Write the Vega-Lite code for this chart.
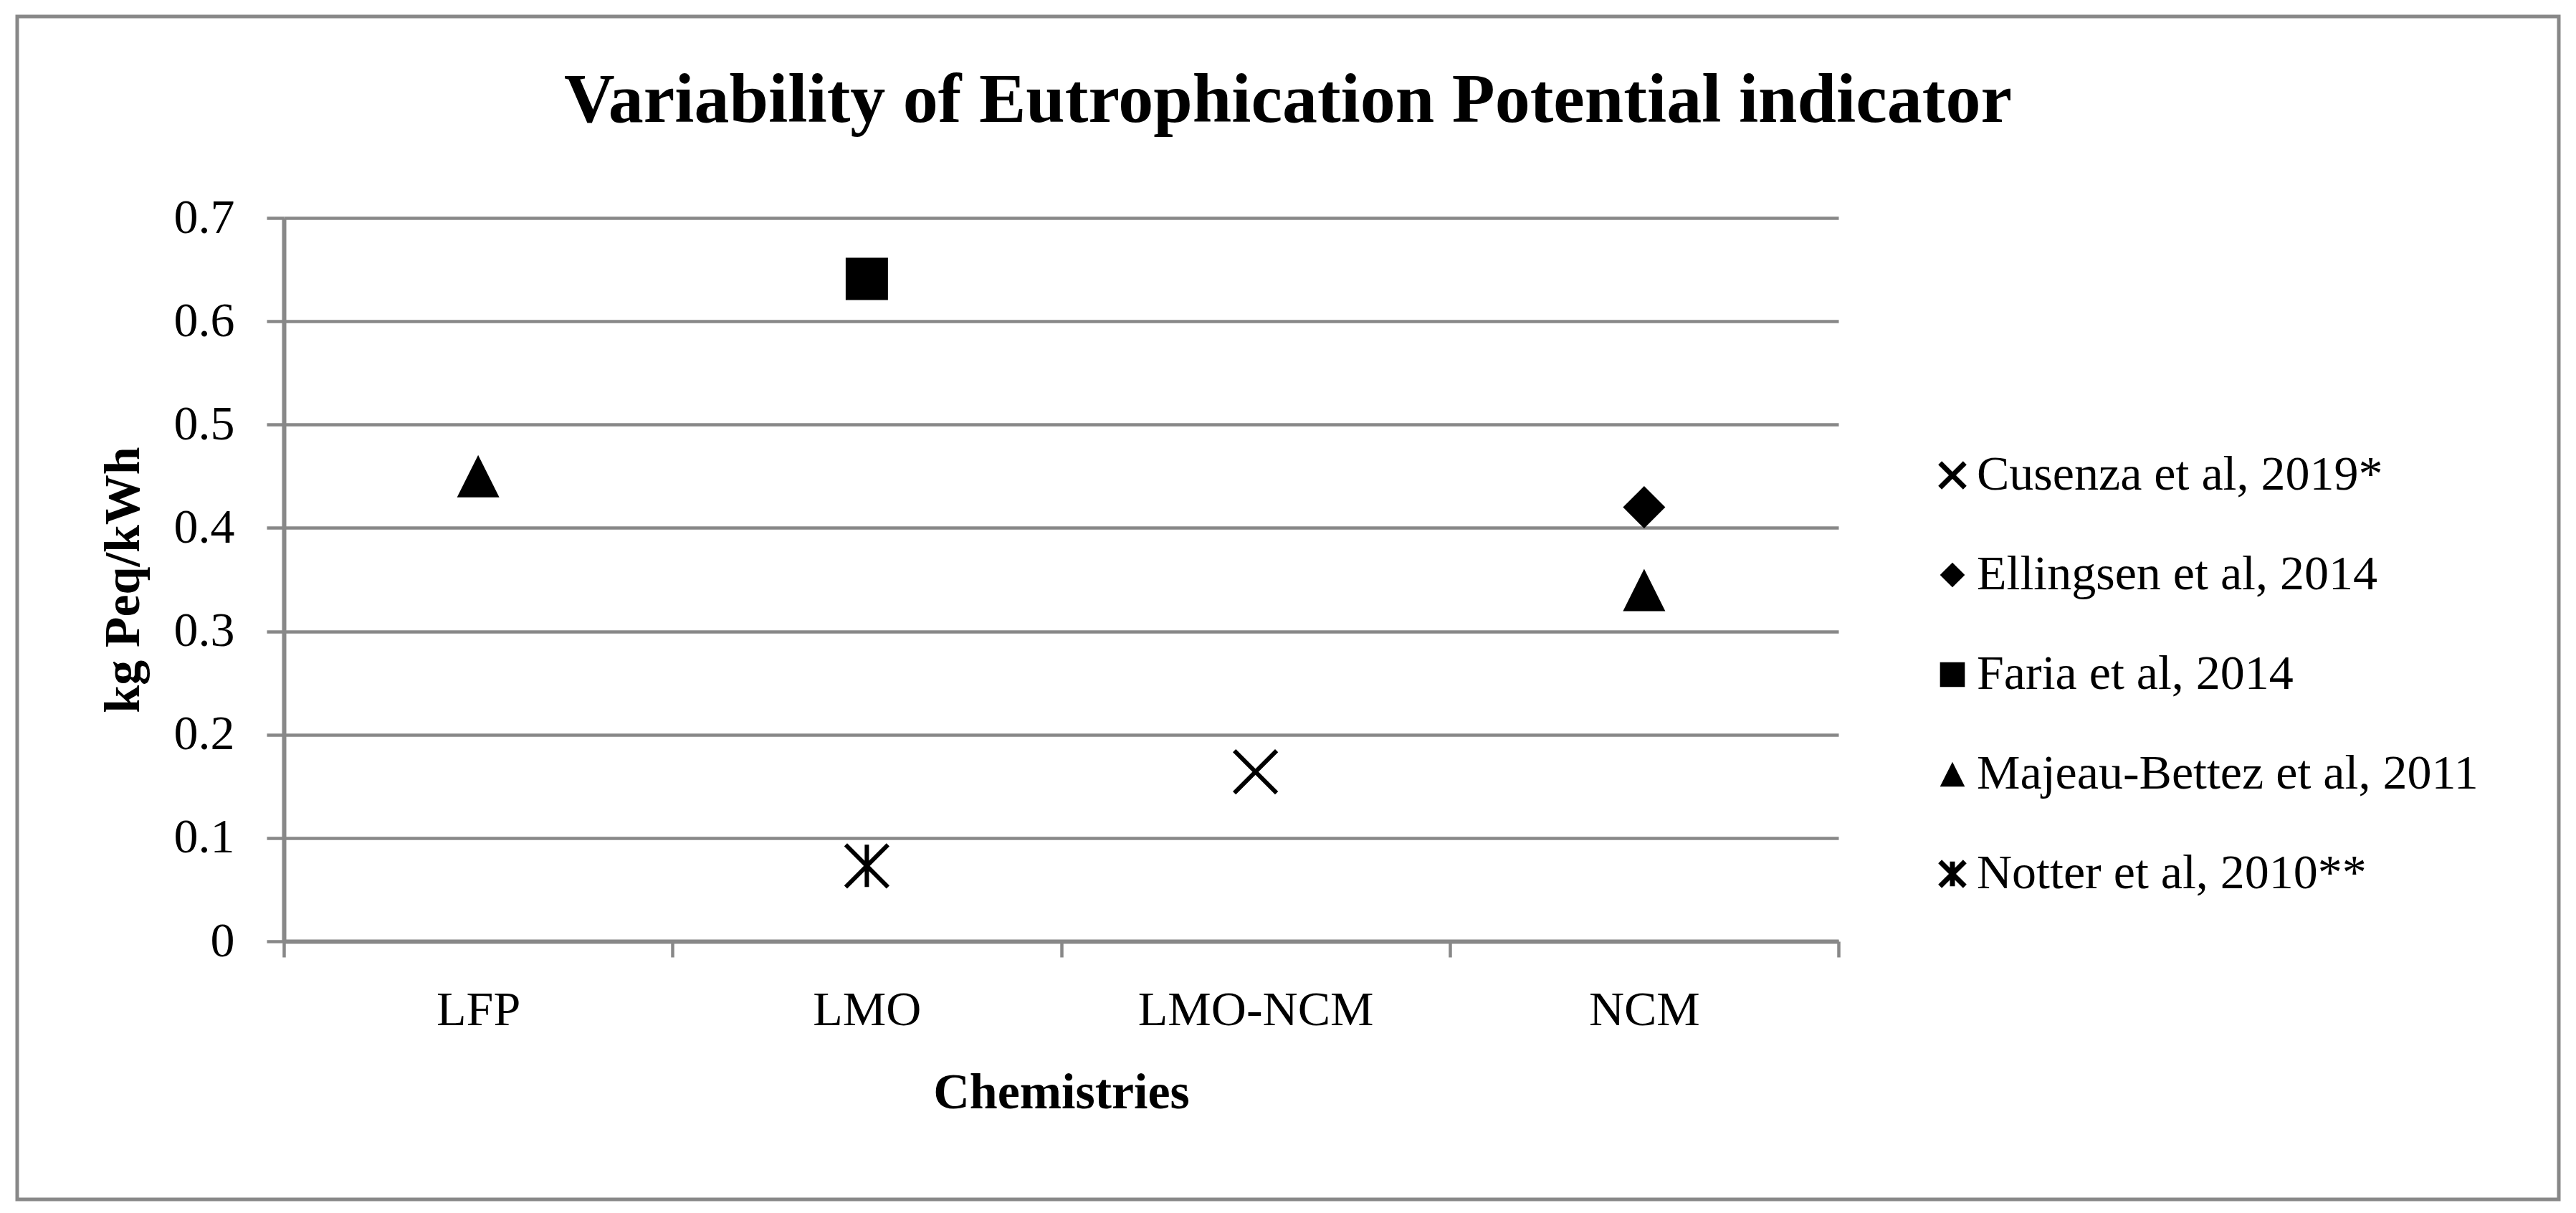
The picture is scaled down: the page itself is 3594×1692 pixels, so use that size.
{
  "$schema": "https://vega.github.io/schema/vega-lite/v6.json",
  "width": 3546,
  "height": 1650,
  "autosize": {"type": "none"},
  "padding": {"left": 24, "top": 23, "right": 24, "bottom": 19},
  "background": "white",
  "title": {
    "text": "Variability of Eutrophication Potential indicator",
    "font": "Liberation Serif",
    "fontSize": 98,
    "fontWeight": "bold",
    "color": "black",
    "anchor": "middle",
    "frame": "group",
    "baseline": "alphabetic",
    "offset": -245
  },
  "data": {
    "values": [
      {"chemistry": "LFP", "study": "Majeau-Bettez et al, 2011", "value": 0.45},
      {"chemistry": "LMO", "study": "Faria et al, 2014", "value": 0.641},
      {"chemistry": "LMO", "study": "Notter et al, 2010**", "value": 0.073},
      {"chemistry": "LMO-NCM", "study": "Cusenza et al, 2019*", "value": 0.164},
      {"chemistry": "NCM", "study": "Ellingsen et al, 2014", "value": 0.42},
      {"chemistry": "NCM", "study": "Majeau-Bettez et al, 2011", "value": 0.34}
    ]
  },
  "mark": {"type": "point", "size": 3481, "strokeWidth": 6, "opacity": 1},
  "encoding": {
    "x": {
      "field": "chemistry",
      "type": "nominal",
      "scale": {"type": "band", "domain": ["LFP", "LMO", "LMO-NCM", "NCM"], "range": [372, 2541], "paddingInner": 0, "paddingOuter": 0},
      "axis": {
        "title": "Chemistries",
        "offset": -360,
        "tickBand": "extent",
        "grid": false,
        "domainWidth": 6,
        "tickSize": 22,
        "tickWidth": 4.5,
        "labelPadding": 94,
        "labelBaseline": "alphabetic",
        "labelFontSize": 68,
        "labelAngle": 0,
        "labelLimit": 0,
        "titleFontSize": 70,
        "titleFontWeight": "bold",
        "titleY": 232,
        "titleBaseline": "alphabetic"
      }
    },
    "y": {
      "field": "value",
      "type": "quantitative",
      "scale": {"domain": [0, 0.7], "range": [1290, 281], "nice": false, "zero": true},
      "axis": {
        "title": "kg Peq/kWh",
        "values": [0, 0.1, 0.2, 0.3, 0.4, 0.5, 0.6, 0.7],
        "format": ".1~f",
        "offset": -372,
        "grid": true,
        "gridWidth": 4.5,
        "domainWidth": 6,
        "tickSize": 24,
        "tickWidth": 4.5,
        "labelPadding": 45,
        "labelFontSize": 68,
        "labelBaseline": "middle",
        "labelLimit": 0,
        "titleFontSize": 70,
        "titleFontWeight": "bold",
        "titleX": -203,
        "titleBaseline": "alphabetic",
        "titleAngle": 270
      }
    },
    "shape": {
      "field": "study",
      "type": "nominal",
      "scale": {
        "domain": ["Cusenza et al, 2019*", "Ellingsen et al, 2014", "Faria et al, 2014", "Majeau-Bettez et al, 2011", "Notter et al, 2010**"],
        "range": ["M-1,-1L1,1M1,-1L-1,1", "M0,-1L1,0L0,1L-1,0Z", "M-1,-1L1,-1L1,1L-1,1Z", "M0,-1L1,1L-1,1Z", "M-1,-1L1,1M1,-1L-1,1M0,-1L0,1"]
      },
      "legend": {"orient": "none", "legendX": 2666, "legendY": 606, "title": null}
    },
    "fill": {
      "field": "study",
      "type": "nominal",
      "scale": {
        "domain": ["Cusenza et al, 2019*", "Ellingsen et al, 2014", "Faria et al, 2014", "Majeau-Bettez et al, 2011", "Notter et al, 2010**"],
        "range": ["transparent", "black", "black", "black", "transparent"]
      },
      "legend": {"orient": "none", "legendX": 2666, "legendY": 606, "title": null}
    },
    "stroke": {
      "field": "study",
      "type": "nominal",
      "scale": {
        "domain": ["Cusenza et al, 2019*", "Ellingsen et al, 2014", "Faria et al, 2014", "Majeau-Bettez et al, 2011", "Notter et al, 2010**"],
        "range": ["black", "transparent", "transparent", "transparent", "black"]
      },
      "legend": {"orient": "none", "legendX": 2666, "legendY": 606, "title": null}
    }
  },
  "config": {
    "view": {"stroke": "#888888", "strokeWidth": 5},
    "axis": {
      "domainColor": "#888888",
      "tickColor": "#888888",
      "gridColor": "#888888",
      "labelFont": "Liberation Serif",
      "titleFont": "Liberation Serif",
      "labelColor": "black",
      "titleColor": "black"
    },
    "legend": {
      "symbolSize": 1200,
      "symbolStrokeWidth": 7,
      "labelFont": "Liberation Serif",
      "labelFontSize": 68,
      "labelColor": "black",
      "labelLimit": 0,
      "rowPadding": 71,
      "labelOffset": 0,
      "padding": 0
    }
  }
}
